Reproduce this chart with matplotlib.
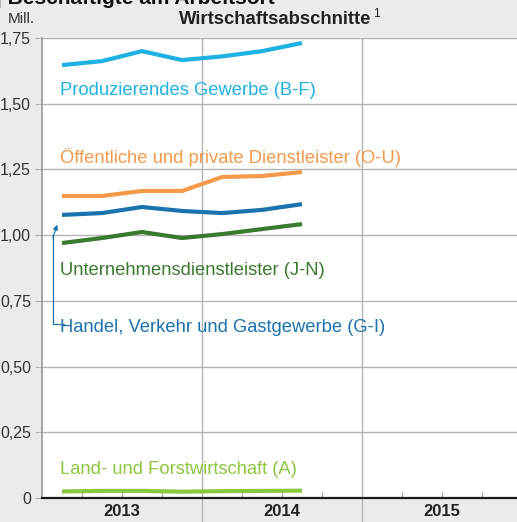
import numpy as np
import matplotlib.pyplot as plt
import matplotlib.transforms as mtransforms

plt.rcParams['font.family'] = ['Liberation Sans', 'DejaVu Sans']

# quarterly values (Mill.), Q1 2013 .. Q3 2014
quarters = ['2013Q1', '2013Q2', '2013Q3', '2013Q4', '2014Q1', '2014Q2', '2014Q3']
produzierendes = [1.647, 1.662, 1.700, 1.666, 1.680, 1.700, 1.731]
oeffentliche = [1.149, 1.149, 1.168, 1.168, 1.221, 1.225, 1.240]
handel = [1.077, 1.084, 1.107, 1.092, 1.084, 1.096, 1.118]
unternehmens = [0.970, 0.989, 1.012, 0.989, 1.004, 1.023, 1.042]
land = [0.025, 0.027, 0.027, 0.024, 0.026, 0.027, 0.028]

years = ['2013', '2014', '2015']
yticks = [0, 0.25, 0.5, 0.75, 1.0, 1.25, 1.5, 1.75]
ytick_labels = ['0', '0,25', '0,50', '0,75', '1,00', '1,25', '1,50', '1,75']

series = [
    ('Produzierendes Gewerbe (B-F)', produzierendes, '#1eb1e3', 1.55),
    ('Öffentliche und private Dienstleister (O-U)', oeffentliche, '#f5994b', 1.295),
    ('Unternehmensdienstleister (J-N)', unternehmens, '#3a7a2f', 0.865),
    ('Handel, Verkehr und Gastgewerbe (G-I)', handel, '#1a73ad', 0.65),
    ('Land- und Forstwirtschaft (A)', land, '#8dc641', 0.11),
]

BG = '#ebebed'
GRID = '#b4b4b4'

fig = plt.figure(figsize=(5.17, 5.22), dpi=100)
fig.patch.set_facecolor(BG)
ax = fig.add_axes([42 / 517, 24 / 522, 1 - 42 / 517, 460 / 522])
ax.set_facecolor('white')

x = np.arange(len(quarters)) + 0.5
ax.set_xlim(0, 475 / 40)
ax.set_ylim(0, 1.75)

for label, vals, color, ty in series:
    ax.plot(x, vals, color=color, linewidth=3.0, solid_capstyle='butt', zorder=3)
    ax.text(0.45, ty, label, color=color, fontsize=13.2, va='center', ha='left', zorder=4)

# arrow from Handel label to its line
ax.plot([0.55, 0.27, 0.27], [0.662, 0.662, 1.0], color='#1a73ad', lw=0.9, zorder=4)
ax.annotate('', xy=(0.38, 1.04), xytext=(0.27, 0.99),
            arrowprops=dict(arrowstyle='-|>', color='#1a73ad', lw=0.9,
                            mutation_scale=7, shrinkA=0, shrinkB=0), zorder=4)

# grid
ax.set_yticks(yticks)
ax.set_yticklabels(ytick_labels)
for yv in yticks[1:]:
    ax.axhline(yv, color=GRID, lw=1.0, zorder=1)
for xv in [4, 8]:
    ax.axvline(xv, color=GRID, lw=1.0, zorder=1)
trans = mtransforms.blended_transform_factory(ax.transData, ax.transAxes)
for xv in [4, 8]:
    ax.plot([xv, xv], [0, -24 / 460], color=GRID, lw=1.0, transform=trans, clip_on=False)
for q in range(1, 12):
    if q % 4:
        ax.plot([q, q], [0, 6 / 460], color=GRID, lw=1.0, transform=trans, zorder=2)

for i, yr in enumerate(years):
    ax.text(4 * i + 2, -13 / 460, yr, transform=trans, ha='center', va='center',
            fontsize=12, fontweight='bold', color='#222222')

ax.set_xticks([])
for s in ['top', 'right']:
    ax.spines[s].set_visible(False)
ax.spines['left'].set_color('#999999')
ax.spines['left'].set_linewidth(1.2)
ax.spines['bottom'].set_color('#1a1a1a')
ax.spines['bottom'].set_linewidth(1.6)
ax.tick_params(axis='y', length=5, color=GRID, labelsize=11.5, labelcolor='#333333', pad=3)

fig.text(21 / 517, 1 - 19 / 522, 'Mill.', ha='center', va='center', fontsize=11, color='#333333')
fig.text(371 / 517, 1 - 19 / 522, 'Wirtschaftsabschnitte', ha='right', va='center',
         fontsize=13.3, fontweight='bold', color='#222222')
fig.text(373 / 517, 1 - 14 / 522, '1', ha='left', va='center', fontsize=8.5, color='#222222')
fig.text(-4 / 517, 1 + 2 / 522, '| Beschäftigte am Arbeitsort', ha='left', va='center',
         fontsize=15, fontweight='bold', color='#111111')

fig.savefig('out.png', dpi=100, facecolor=BG)
